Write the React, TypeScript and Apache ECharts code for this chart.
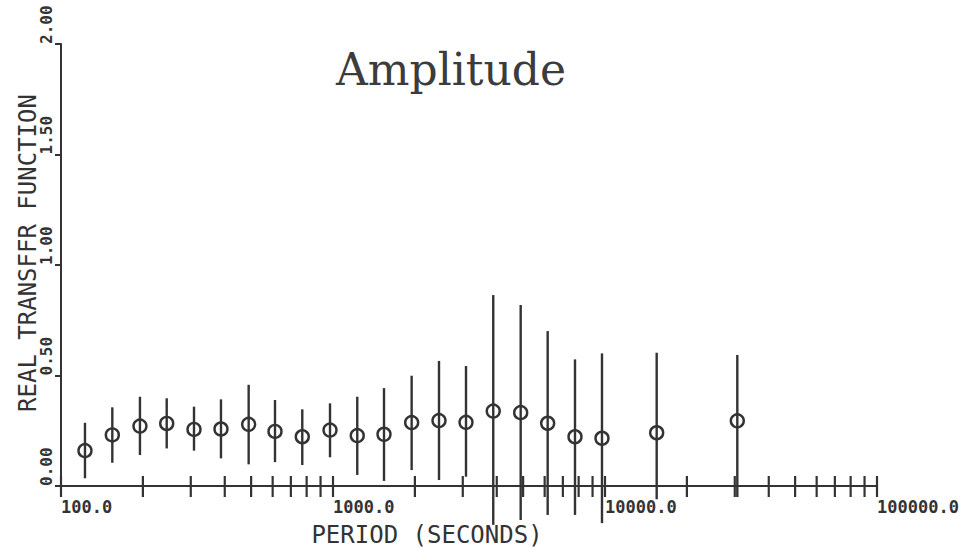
import React, { useEffect, useRef } from "react";
import * as echarts from "echarts";

// Period (seconds) of each estimate
const periods = [
  122.5, 154.4, 195.1, 244.7, 308.3, 387.4, 489.7, 612, 771, 975, 1228,
  1540, 1946, 2453, 3083, 3883, 4898, 6155, 7757, 9748, 15488, 30650,
];
// Real transfer function amplitude (circle centres)
const amplitude = [
  0.16, 0.231, 0.271, 0.283, 0.256, 0.258, 0.279, 0.247, 0.223, 0.253, 0.228,
  0.234, 0.287, 0.296, 0.288, 0.339, 0.332, 0.284, 0.223, 0.216, 0.241, 0.295,
];
// Error bar upper ends
const upper = [
  0.286, 0.356, 0.404, 0.397, 0.359, 0.392, 0.458, 0.389, 0.347, 0.374, 0.404,
  0.443, 0.499, 0.566, 0.543, 0.864, 0.819, 0.701, 0.573, 0.6, 0.603, 0.593,
];
// Error bar lower ends
const lower = [
  0.035, 0.105, 0.14, 0.17, 0.16, 0.125, 0.098, 0.108, 0.095, 0.13, 0.05,
  0.023, 0.072, 0.027, 0.042, -0.176, -0.154, -0.131, -0.131, -0.168, -0.06,
  -0.05,
];
// Log-axis tick positions (decades and 2..9 multiples)
const xTicks = [
  100, 200, 300, 400, 500, 600, 700, 800, 900,
  1000, 2000, 3000, 4000, 5000, 6000, 7000, 8000, 9000,
  10000, 20000, 30000, 40000, 50000, 60000, 70000, 80000, 90000,
  100000,
];
const yTicks = [0, 0.5, 1.0, 1.5, 2.0];

const INK = "#333333";
const MONO = "DejaVu Sans Mono";

export default function App() {
  const ref = useRef<HTMLDivElement>(null);

  useEffect(() => {
    if (!ref.current) return;
    const chart = echarts.init(ref.current, undefined, { renderer: "svg" });

    const pointData = periods.map((p, i) => [p, amplitude[i], lower[i], upper[i]]);
    const tickData = xTicks.map((v) => [v, 0]);

    const option: any = {
      animation: false,
      backgroundColor: "#ffffff",
      title: {
        text: "Amplitude",
        left: 336,
        top: 47,
        padding: 0,
        textStyle: {
          fontFamily: "DejaVu Serif",
          fontSize: 44,
          fontWeight: "normal",
          color: "#3c3c3c",
        },
      },
      grid: {
        left: 61,
        right: 89,
        top: 44,
        bottom: 62,
        containLabel: false,
        outerBoundsMode: "none",
      },
      xAxis: {
        type: "log",
        logBase: 10,
        min: 100,
        max: 100000,
        splitNumber: 3,
        name: "PERIOD (SECONDS)",
        nameLocation: "middle",
        nameGap: 37,
        nameTextStyle: {
          fontFamily: MONO,
          fontSize: 24,
          color: INK,
          padding: [0, 84, 0, 0],
        },
        axisLine: { show: true, onZero: false, lineStyle: { color: INK, width: 2 } },
        axisTick: { show: false },
        splitLine: { show: false },
        minorTick: { show: false },
        axisLabel: {
          show: true,
          align: "left",
          margin: 12,
          fontFamily: MONO,
          fontSize: 17,
          fontWeight: "bold",
          color: INK,
          showMinLabel: true,
          showMaxLabel: true,
          hideOverlap: false,
          formatter: (v: number) => Number(v).toFixed(1),
        },
      },
      yAxis: {
        type: "value",
        min: yTicks[0],
        max: yTicks[yTicks.length - 1],
        interval: 0.5,
        name: "REAL TRANSFFR FUNCTION",
        nameLocation: "middle",
        nameRotate: 90,
        nameGap: 21,
        nameMoveOverlap: false,
        nameTextStyle: {
          fontFamily: MONO,
          fontSize: 24,
          color: INK,
          padding: [0, 0, 0, 24],
        },
        axisLine: { show: true, lineStyle: { color: INK, width: 2 } },
        axisTick: { show: true, length: 6, lineStyle: { color: INK, width: 2 } },
        splitLine: { show: false },
        axisLabel: {
          rotate: 90,
          align: "left",
          verticalAlign: "bottom",
          margin: 7,
          fontFamily: MONO,
          fontSize: 16,
          fontWeight: "bold",
          color: INK,
          showMinLabel: true,
          showMaxLabel: true,
          formatter: (v: number) => Number(v).toFixed(2),
        },
      },
      series: [
        {
          type: "custom",
          name: "ticks",
          silent: true,
          clip: false,
          data: tickData,
          encode: { x: 0, y: 1 },
          renderItem: (_params: any, api: any) => {
            const p = api.coord([api.value(0), 0]);
            return {
              type: "line",
              shape: { x1: p[0], y1: p[1] - 10, x2: p[0], y2: p[1] + 11 },
              style: { stroke: INK, lineWidth: 2.2 },
            };
          },
          z: 3,
        },
        {
          type: "custom",
          name: "amplitude",
          clip: false,
          data: pointData,
          encode: { x: 0, y: [1, 2, 3] },
          renderItem: (_params: any, api: any) => {
            const x = api.value(0);
            const c = api.coord([x, api.value(1)]);
            const lo = api.coord([x, api.value(2)]);
            const hi = api.coord([x, api.value(3)]);
            return {
              type: "group",
              children: [
                {
                  type: "line",
                  shape: { x1: c[0], y1: hi[1], x2: c[0], y2: lo[1] },
                  style: { stroke: INK, lineWidth: 2.4 },
                },
                {
                  type: "circle",
                  shape: { cx: c[0], cy: c[1], r: 6.5 },
                  style: { fill: "none", stroke: INK, lineWidth: 2.4 },
                },
              ],
            };
          },
          z: 4,
        },
      ],
    };

    chart.setOption(option);
    return () => chart.dispose();
  }, []);

  return (
    <div
      ref={ref}
      style={{ position: "fixed", left: 0, top: 0, width: 966, height: 548, background: "#fff" }}
    />
  );
}
